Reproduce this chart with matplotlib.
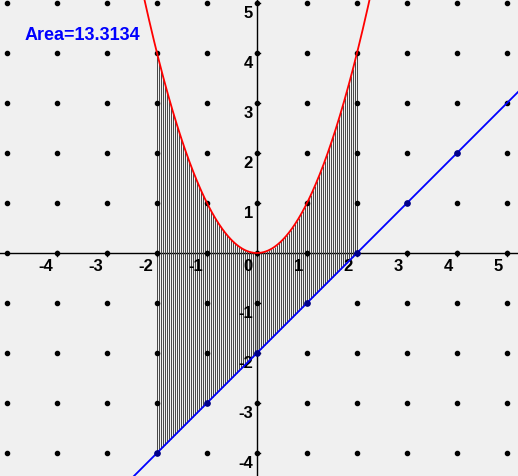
import numpy as np
import matplotlib
matplotlib.use("Agg")
import matplotlib.pyplot as plt
plt.rcParams['font.family'] = ['Liberation Sans', 'DejaVu Sans']

x_ticks = [-4, -3, -2, -1, 0, 1, 2, 3, 4, 5]
y_ticks = [-4, -3, -2, -1, 1, 2, 3, 4, 5]
a, b = -2, 2
n_strips = 100
area_label = "Area=13.3134"
line_pts_x = [-2, -1, 0, 1, 2, 3, 4]

fig = plt.figure(figsize=(5.18, 4.76), dpi=100)
fig.patch.set_facecolor("#f0f0f0")
ax = fig.add_axes([0, 0, 1, 1])
ax.set_facecolor("#f0f0f0")
ax.set_xlim(-5.14, 5.22)
ax.set_ylim(-4.46, 5.06)
ax.axis("off")

gx, gy = np.meshgrid(np.arange(-5, 6), np.arange(-4, 6))
ax.scatter(gx.ravel(), gy.ravel(), s=9, c="black", zorder=2)

ax.axhline(0, color="black", lw=1, zorder=1)
ax.axvline(0, color="black", lw=1, zorder=1)
for t in x_ticks:
    ax.plot([t, t], [-0.05, 0.05], color="black", lw=1)
    ax.text(t - 0.08, -0.12, str(t), ha="right", va="top", fontsize=12, fontweight="bold")
for t in y_ticks:
    ax.plot([-0.05, 0.05], [t, t], color="black", lw=1)
    ax.text(-0.08, t - 0.05, str(t), ha="right", va="top", fontsize=12, fontweight="bold")

xs = np.linspace(a, b, n_strips + 1)
ax.vlines(xs, xs - 2, xs ** 2, color="#444444", lw=0.7, zorder=1)

xx = np.linspace(-2.3, 2.3, 400)
ax.plot(xx, xx ** 2, color="red", lw=1.3, zorder=3)
xl = np.array([-5.5, 5.5])
ax.plot(xl, xl - 2, color="blue", lw=1.3, zorder=3)
lp = np.array(line_pts_x)
ax.scatter(lp, lp - 2, s=14, c="#00008b", zorder=4)

ax.text(-4.65, 4.35, area_label, color="blue", fontsize=13, fontweight="bold", va="center")

fig.savefig("out.png", dpi=100, facecolor=fig.get_facecolor())
